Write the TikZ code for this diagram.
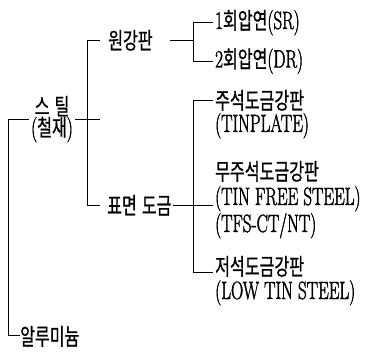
\documentclass[tikz,border=0pt]{standalone}
\usepackage{fontspec}
\newfontfamily\krfont[FakeStretch=0.7,FakeBold=0.8]{Noto Sans CJK KR}
\newfontfamily\ltfont[FakeStretch=0.68,FakeBold=1.6]{Latin Modern Roman}
\newcommand{\Kr}[1]{{\krfont\fontsize{23}{23}\selectfont #1}}
\newcommand{\Ltn}[1]{{\ltfont\fontsize{25}{25}\selectfont #1}}
\begin{document}
\begin{tikzpicture}[x=1pt,y=-1pt,
  lbl/.style={inner sep=0pt, anchor=base west},
  conn/.style={draw=black, line width=0.9pt}]
\useasboundingbox (0,0) rectangle (377,352);
% junction columns
\coordinate (T) at (8,0);
\coordinate (B1) at (87,0);
\coordinate (B2) at (193,0);
% nodes
\node[inner ysep=0pt, inner xsep=2pt, align=center, font=\fontsize{21}{21}\selectfont] (steel) at (52,119)
  {\Kr{스\hspace{5pt}틸}\\\Ltn{(}\Kr{철재}\Ltn{)}};
\node[lbl] (alu) at (20,345) {\Kr{알루미늄}};
\node[lbl] (won) at (108,49) {\Kr{원강판}};
\node[lbl] (surf) at (107,214) {\Kr{표면\hspace{5pt}도금}};
\node[lbl] (sr) at (215,29) {\Ltn{1}\Kr{회압연}\Ltn{(SR)}};
\node[lbl] (dr) at (215,67.5) {\Ltn{2}\Kr{회압연}\Ltn{(DR)}};
\node[lbl] (tin1) at (215,109) {\Kr{주석도금강판}};
\node[lbl] (tin2) at (215,132) {\Ltn{(TINPLATE)}};
\node[lbl] (tfs1) at (215,180) {\Kr{무주석도금강판}};
\node[lbl] (tfs2) at (215,205) {\Ltn{(TIN FREE STEEL)}};
\node[lbl] (tfs3) at (215,232) {\Ltn{(TFS-CT/NT)}};
\node[lbl] (low1) at (215,275) {\Kr{저석도금강판}};
\node[lbl] (low2) at (215,299) {\Ltn{(LOW TIN STEEL)}};
% connectors
\draw[conn] (steel.west) -- (T |- steel.west) |- ([yshift=1pt]alu.west);
\draw[conn] (steel.east) -- ([xshift=13pt]B1 |- steel.east);
\draw[conn] ([xshift=-8pt]won.west) -| (B1 |- surf.west) -- ([xshift=-7pt]surf.west);
\draw[conn] ([xshift=17pt]won.east) -- (B2 |- won.east);
\draw[conn] ([xshift=-2pt]sr.west) -| (B2 |- dr.west) -- ([xshift=-2pt]dr.west);
\draw[conn] ([xshift=-2pt]tin1.west) -| ([yshift=-6pt]B2 |- low1.west) -- ([xshift=-2pt,yshift=-6pt]low1.west);
\draw[conn] ([xshift=1pt]surf.east) -- ([xshift=-2pt]surf.east -| tfs2.west);
\end{tikzpicture}
\end{document}
